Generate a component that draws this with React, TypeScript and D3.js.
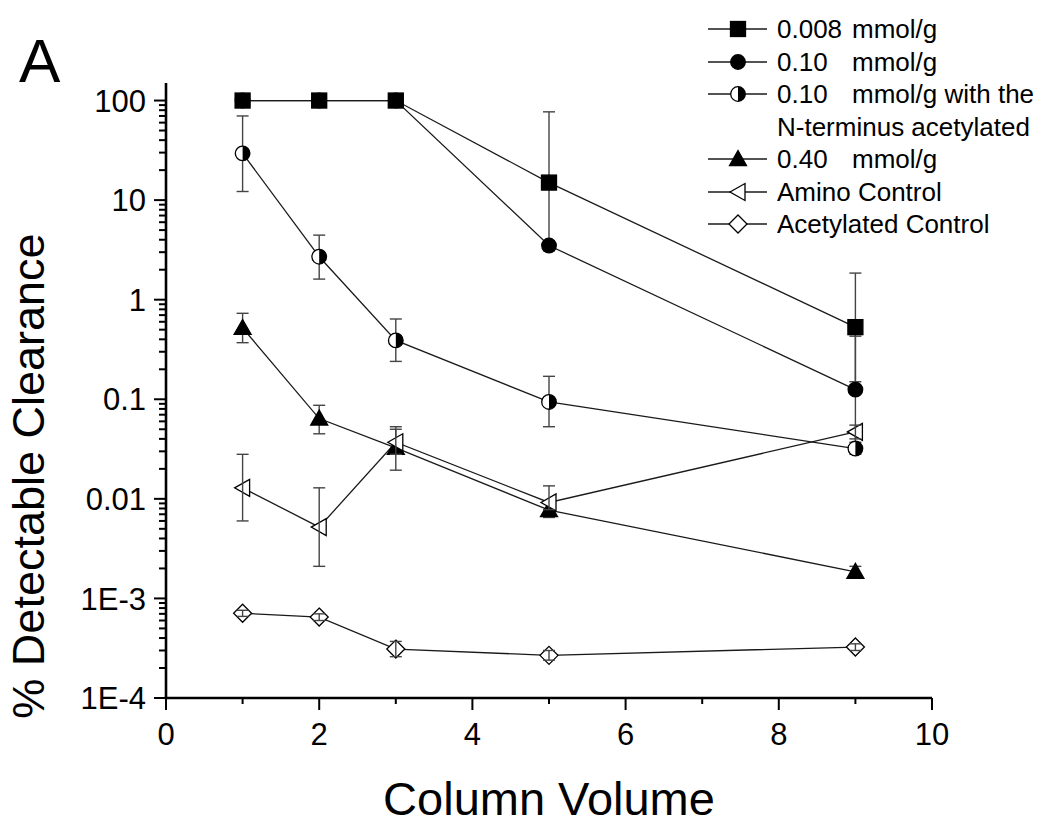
import React from "react";
import * as d3 from "d3";

const columnVolumes = [1, 2, 3, 5, 9];

const seriesNames = [
  "0.008 mmol/g",
  "0.10 mmol/g",
  "0.10 mmol/g with the N-terminus acetylated",
  "0.40 mmol/g",
  "Amino Control",
  "Acetylated Control",
];

// values (% detectable clearance) and error bar ends
const loading008 = [100, 100, 100, 15, 0.53];
const loading008Low = [null, null, null, 3.6, 0.15];
const loading008High = [null, null, null, 77, 1.85];

const loading010 = [100, 100, 100, 3.5, 0.125];
const loading010Low = [null, null, null, 3.1, 0.03];
const loading010High = [null, null, null, 3.9, 0.43];

const loading010Ac = [29.5, 2.7, 0.39, 0.094, 0.032];
const loading010AcLow = [12.2, 1.61, 0.24, 0.053, 0.028];
const loading010AcHigh = [70, 4.45, 0.64, 0.17, 0.037];

const loading040 = [0.52, 0.064, 0.0325, 0.0077, 0.00185];
const loading040Low = [0.37, 0.045, 0.0194, 0.0065, 0.0016];
const loading040High = [0.73, 0.087, 0.053, 0.0092, 0.0021];

const aminoControl = [0.0129, 0.0052, 0.037, 0.0092, 0.047];
const aminoControlLow = [0.006, 0.0021, 0.028, 0.0078, 0.04];
const aminoControlHigh = [0.028, 0.0129, 0.05, 0.0135, 0.055];

const acetylControl = [0.00071, 0.00065, 0.00031, 0.000268, 0.000325];
const acetylControlLow = [0.00066, 0.0006, 0.00026, 0.00024, 0.0003];
const acetylControlHigh = [0.00076, 0.0007, 0.00037, 0.0003, 0.00035];

const xTicks = [0, 2, 4, 6, 8, 10];
const xMinorTicks = [1, 3, 5, 7, 9];
const yTicks = [1e-4, 1e-3, 0.01, 0.1, 1, 10, 100];
const yTickLabels = ["1E-4", "1E-3", "0.01", "0.1", "1", "10", "100"];

type Shape = "square" | "circle" | "half" | "triangle" | "left" | "diamond";

const series = [
  { values: loading008, low: loading008Low, high: loading008High, shape: "square" as Shape, barsOnTop: false },
  { values: loading010, low: loading010Low, high: loading010High, shape: "circle" as Shape, barsOnTop: false },
  { values: loading010Ac, low: loading010AcLow, high: loading010AcHigh, shape: "half" as Shape, barsOnTop: false },
  { values: loading040, low: loading040Low, high: loading040High, shape: "triangle" as Shape, barsOnTop: false },
  { values: aminoControl, low: aminoControlLow, high: aminoControlHigh, shape: "left" as Shape, barsOnTop: true },
  { values: acetylControl, low: acetylControlLow, high: acetylControlHigh, shape: "diamond" as Shape, barsOnTop: true },
];

const FONT = "'Liberation Sans', Arial, Helvetica, sans-serif";

function Marker({ shape, cx, cy }: { shape: Shape; cx: number; cy: number }) {
  const sw = 1.3;
  switch (shape) {
    case "square":
      return <rect x={cx - 7.5} y={cy - 7.5} width={15} height={15} fill="#000" stroke="#000" strokeWidth={sw} />;
    case "circle":
      return <circle cx={cx} cy={cy} r={7.3} fill="#000" stroke="#000" strokeWidth={sw} />;
    case "half":
      return (
        <g>
          <circle cx={cx} cy={cy} r={7.3} fill="#fff" stroke="#000" strokeWidth={sw} />
          <path d={`M${cx},${cy - 7.3} A7.3,7.3 0 0 1 ${cx},${cy + 7.3} Z`} fill="#000" />
        </g>
      );
    case "triangle":
      return (
        <path
          d={`M${cx},${cy - 8.5} L${cx + 8.5},${cy + 6.5} L${cx - 8.5},${cy + 6.5} Z`}
          fill="#000"
          stroke="#000"
          strokeWidth={sw}
        />
      );
    case "left":
      return (
        <path
          d={`M${cx - 8},${cy} L${cx + 7},${cy - 8.5} L${cx + 7},${cy + 8.5} Z`}
          fill="#fff"
          stroke="#000"
          strokeWidth={sw}
        />
      );
    case "diamond":
      return (
        <path
          d={`M${cx},${cy - 9} L${cx + 9},${cy} L${cx},${cy + 9} L${cx - 9},${cy} Z`}
          fill="#fff"
          stroke="#000"
          strokeWidth={sw}
        />
      );
  }
  return null;
}

export default function App() {
  const x = d3.scaleLinear().domain([0, 10]).range([166, 932]);
  const y = d3.scaleLog().domain([1e-4, 150]).range([698, 83]);

  const yMinor: number[] = [];
  for (let e = -4; e <= 2; e++) {
    for (let k = 2; k <= 9; k++) {
      const v = k * Math.pow(10, e);
      if (v <= 150) yMinor.push(v);
    }
  }

  const line = d3
    .line<number>()
    .x((_, i) => x(columnVolumes[i]))
    .y((d) => y(d));

  const errorBars = (s: (typeof series)[number], key: string) =>
    s.values.map((v, i) => {
      const lo = s.low[i];
      const hi = s.high[i];
      if (lo == null || hi == null) return null;
      const cx = x(columnVolumes[i]);
      return (
        <g key={key + i} stroke="#444" strokeWidth={1.4}>
          <line x1={cx} x2={cx} y1={y(lo)} y2={y(hi)} />
          <line x1={cx - 6} x2={cx + 6} y1={y(hi)} y2={y(hi)} />
          <line x1={cx - 6} x2={cx + 6} y1={y(lo)} y2={y(lo)} />
        </g>
      );
    });

  const legendRows = [29, 62, 94, 159, 192, 224];

  return (
    <svg
      width={1050}
      height={829}
      style={{ position: "absolute", left: 0, top: 0, background: "#fff" }}
      fontFamily={FONT}
    >
      <rect width={1050} height={829} fill="#fff" />
      {/* panel letter */}
      <text x={19} y={82} fontSize={62}>A</text>

      {/* error bars underneath */}
      {series.map((s, si) => (!s.barsOnTop ? <g key={"eb" + si}>{errorBars(s, "e" + si)}</g> : null))}

      {/* lines */}
      {series.map((s, si) => (
        <path key={"l" + si} d={line(s.values) || ""} fill="none" stroke="#1a1a1a" strokeWidth={1.3} />
      ))}

      {/* markers */}
      {series.map((s, si) => (
        <g key={"m" + si}>
          {s.values.map((v, i) => (
            <Marker key={i} shape={s.shape} cx={x(columnVolumes[i])} cy={y(v)} />
          ))}
        </g>
      ))}

      {/* error bars on top for open markers */}
      {series.map((s, si) => (s.barsOnTop ? <g key={"et" + si}>{errorBars(s, "t" + si)}</g> : null))}

      {/* y axis */}
      <g>
        <line x1={166} x2={166} y1={83} y2={698} stroke="#000" strokeWidth={2.6} />
        {yMinor.map((v) => (
          <line key={"ym" + v} x1={159} x2={166} y1={y(v)} y2={y(v)} stroke="#000" strokeWidth={2} />
        ))}
        {yTicks.map((v, i) => (
          <g key={"yt" + v}>
            <line x1={154} x2={166} y1={y(v)} y2={y(v)} stroke="#000" strokeWidth={2} />
            <text x={146} y={y(v)} dy="0.36em" textAnchor="end" fontSize={31}>
              {yTickLabels[i]}
            </text>
          </g>
        ))}
      </g>

      {/* x axis */}
      <g>
        <line x1={164.7} x2={932} y1={698} y2={698} stroke="#000" strokeWidth={2.6} />
        {xMinorTicks.map((v) => (
          <line key={"xm" + v} x1={x(v)} x2={x(v)} y1={698} y2={704} stroke="#000" strokeWidth={2} />
        ))}
        {xTicks.map((v) => (
          <g key={"xt" + v}>
            <line x1={x(v)} x2={x(v)} y1={698} y2={710} stroke="#000" strokeWidth={2} />
            <text x={x(v)} y={745} textAnchor="middle" fontSize={31}>
              {v}
            </text>
          </g>
        ))}
      </g>

      {/* axis titles */}
      <text x={549} y={815} textAnchor="middle" fontSize={47}>
        Column Volume
      </text>
      <text transform="translate(44,476) rotate(-90)" textAnchor="middle" fontSize={45}>
        % Detectable Clearance
      </text>

      {/* legend */}
      <g>
        {series.map((s, si) => {
          const cy = legendRows[si];
          return (
            <g key={"lg" + si}>
              <line x1={708} x2={767} y1={cy} y2={cy} stroke="#1a1a1a" strokeWidth={1.3} />
              <Marker shape={s.shape} cx={738} cy={cy} />
            </g>
          );
        })}
        <text x={777} y={legendRows[0] + 9} fontSize={26}>
          <tspan>0.008</tspan>
          <tspan x={852}>mmol/g</tspan>
        </text>
        <text x={777} y={legendRows[1] + 9} fontSize={26}>
          <tspan>0.10</tspan>
          <tspan x={852}>mmol/g</tspan>
        </text>
        <text x={777} y={legendRows[2] + 9} fontSize={26}>
          <tspan>0.10</tspan>
          <tspan x={852}>mmol/g with the</tspan>
        </text>
        <text x={777} y={127 + 9} fontSize={26}>
          N-terminus acetylated
        </text>
        <text x={777} y={legendRows[3] + 9} fontSize={26}>
          <tspan>0.40</tspan>
          <tspan x={852}>mmol/g</tspan>
        </text>
        <text x={777} y={legendRows[4] + 9} fontSize={26}>
          {seriesNames[4]}
        </text>
        <text x={777} y={legendRows[5] + 9} fontSize={26}>
          {seriesNames[5]}
        </text>
      </g>
    </svg>
  );
}
